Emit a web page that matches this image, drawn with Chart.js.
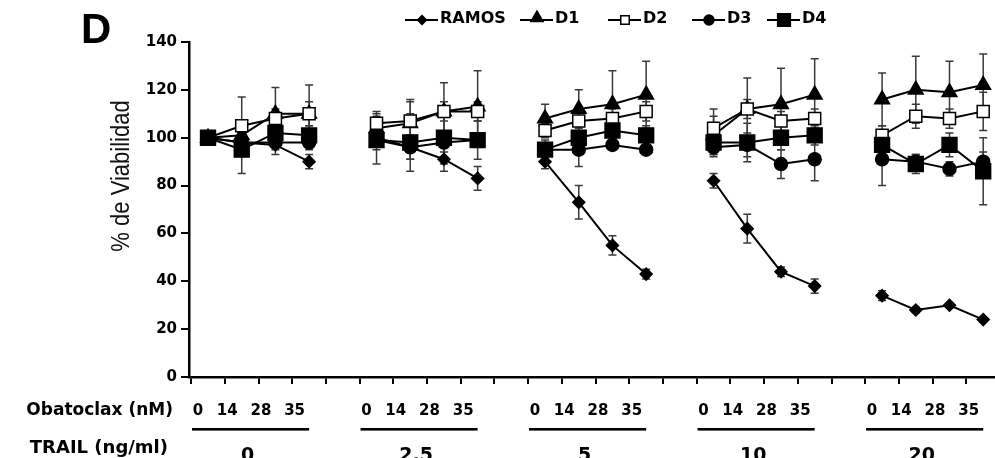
<!DOCTYPE html>
<html>
<head>
<meta charset="utf-8">
<script src="https://cdn.jsdelivr.net/npm/chart.js@4.4.0/dist/chart.umd.min.js"></script>
<style>
html,body{margin:0;padding:0;background:#fff;}
#wrap{width:995px;height:458px;position:relative;overflow:hidden;}
</style>
</head>
<body>
<div id="wrap"><canvas id="c" width="995" height="458"></canvas></div>
<script>
// ---------- data ----------
const panelLabel = 'D';
const yTitle = '% de Viabilidad';
const rowLabelObatoclax = 'Obatoclax (nM)';
const rowLabelTrail = 'TRAIL (ng/ml)';
const trailGroups = ['0', '2.5', '5', '10', '20'];
const categories = ['0','14','28','35','', '0','14','28','35','', '0','14','28','35','', '0','14','28','35','', '0','14','28','35'];
const yTickValues = [0, 20, 40, 60, 80, 100, 120, 140];
const seriesNames = ['RAMOS', 'D1', 'D2', 'D3', 'D4'];

const ramos    = [100, 98, 97, 90, null, 100, 96, 91, 83, null, 90, 73, 55, 43, null, 82, 62, 44, 38, null, 34, 28, 30, 24];
const ramosErr = [0, 3, 4, 3, null, 3, 5, 5, 5, null, 3, 7, 4, 2, null, 3, 6, 2, 3, null, 2, 1, 1, 1];
const d1       = [100, 101, 110, 110, null, 104, 106, 111, 113, null, 108, 112, 114, 118, null, 101, 112, 114, 118, null, 116, 120, 119, 122];
const d1Err    = [0, 6, 11, 12, null, 6, 9, 12, 15, null, 6, 8, 14, 14, null, 8, 13, 15, 15, null, 11, 14, 13, 13];
const d2       = [100, 105, 108, 110, null, 106, 107, 111, 111, null, 103, 107, 108, 111, null, 104, 112, 107, 108, null, 101, 109, 108, 111];
const d2Err    = [0, 12, 4, 5, null, 5, 9, 4, 4, null, 3, 4, 4, 4, null, 8, 4, 4, 4, null, 4, 5, 4, 8];
const d3       = [100, 98, 98, 98, null, 99, 96, 98, 99, null, 95, 95, 97, 95, null, 96, 97, 89, 91, null, 91, 90, 87, 90];
const d3Err    = [0, 5, 3, 3, null, 4, 5, 4, 3, null, 3, 7, 2, 2, null, 3, 5, 6, 9, null, 11, 3, 3, 4];
const d4       = [100, 95, 102, 101, null, 99, 98, 100, 99, null, 95, 100, 103, 101, null, 98, 98, 100, 101, null, 97, 89, 97, 86];
const d4Err    = [0, 10, 4, 4, null, 10, 12, 11, 8, null, 4, 6, 4, 4, null, 6, 8, 5, 4, null, 6, 4, 5, 14];

// ---------- styles ----------
const seriesList = [
  {name: seriesNames[0], values: ramos, errors: ramosErr, style: 'rectRot',  r: 6,    fill: '#000', order: 4, legR: 4.5},
  {name: seriesNames[1], values: d1,    errors: d1Err,    style: 'triangle', r: 8.5,  fill: '#000', order: 3, legR: 7},
  {name: seriesNames[2], values: d2,    errors: d2Err,    style: 'rect',     r: 8.5,  fill: '#fff', order: 1, legR: 6},
  {name: seriesNames[3], values: d3,    errors: d3Err,    style: 'circle',   r: 6.5,  fill: '#000', order: 2, legR: 5},
  {name: seriesNames[4], values: d4,    errors: d4Err,    style: 'rect',     r: 10.5, fill: '#000', order: 0, legR: 9}
];
const legendLineStarts = [405, 520, 608, 692, 767];

const datasets = seriesList.map(s => ({
  label: s.name,
  data: s.values.map((v, i) => ({x: i, y: v})),
  borderColor: '#000',
  borderWidth: 2,
  pointStyle: s.style,
  pointRadius: s.r,
  pointBackgroundColor: s.fill,
  pointBorderColor: '#000',
  pointBorderWidth: 1.5,
  spanGaps: false,
  tension: 0,
  fill: false,
  clip: false,
  order: s.order
}));

const boundaries = categories.map((c, i) => i - 0.5);

const errorBarPlugin = {
  id: 'errbars',
  beforeDatasetsDraw(chart) {
    const {ctx, scales: {x, y}} = chart;
    ctx.save();
    ctx.strokeStyle = '#3a3a3a';
    ctx.lineWidth = 1.5;
    seriesList.forEach(s => {
      s.values.forEach((v, i) => {
        const e = s.errors[i];
        if (v == null || !e) return;
        const px = x.getPixelForValue(i);
        const t = y.getPixelForValue(v + e);
        const b = y.getPixelForValue(v - e);
        ctx.beginPath();
        ctx.moveTo(px, t); ctx.lineTo(px, b);
        ctx.moveTo(px - 4, t); ctx.lineTo(px + 4, t);
        ctx.moveTo(px - 4, b); ctx.lineTo(px + 4, b);
        ctx.stroke();
      });
    });
    ctx.restore();
  }
};

function drawMarker(ctx, style, cx, cy, r, fill) {
  ctx.beginPath();
  if (style === 'circle') {
    ctx.arc(cx, cy, r, 0, Math.PI * 2);
  } else if (style === 'rect') {
    ctx.rect(cx - r * 0.7071, cy - r * 0.7071, r * 1.4142, r * 1.4142);
  } else if (style === 'rectRot') {
    ctx.moveTo(cx - r, cy); ctx.lineTo(cx, cy - r); ctx.lineTo(cx + r, cy); ctx.lineTo(cx, cy + r); ctx.closePath();
  } else if (style === 'triangle') {
    ctx.moveTo(cx, cy - r);
    ctx.lineTo(cx + r * 0.866, cy + r * 0.5);
    ctx.lineTo(cx - r * 0.866, cy + r * 0.5);
    ctx.closePath();
  }
  ctx.fillStyle = fill;
  ctx.fill();
  ctx.lineWidth = 1.5;
  ctx.strokeStyle = '#000';
  ctx.stroke();
}

const annotPlugin = {
  id: 'annot',
  afterDraw(chart) {
    const {ctx, scales: {x, y}} = chart;
    ctx.save();
    ctx.fillStyle = '#000';
    ctx.textBaseline = 'alphabetic';

    // panel letter
    ctx.font = 'bold 42px "Liberation Sans", Arial, sans-serif';
    ctx.textAlign = 'left';
    ctx.fillText(panelLabel, 81, 43);

    // y title
    ctx.save();
    ctx.translate(122, 176);
    ctx.rotate(-Math.PI / 2);
    ctx.scale(1, 1.2);
    ctx.font = '22px "Liberation Sans", Arial, sans-serif';
    ctx.textAlign = 'center';
    ctx.textBaseline = 'middle';
    ctx.fillStyle = '#111';
    ctx.fillText(yTitle, 0, 0);
    ctx.restore();

    // legend
    ctx.font = 'bold 16px "DejaVu Sans", sans-serif';
    ctx.textAlign = 'left';
    ctx.textBaseline = 'middle';
    seriesList.forEach((s, k) => {
      const lx = legendLineStarts[k];
      ctx.beginPath();
      ctx.moveTo(lx, 20); ctx.lineTo(lx + 33, 20);
      ctx.lineWidth = 2; ctx.strokeStyle = '#000'; ctx.stroke();
      drawMarker(ctx, s.style, lx + 17, s.style === 'triangle' ? 18 : 20, s.legR, s.fill);
      ctx.fillStyle = '#000';
      ctx.fillText(s.name, lx + 35, 19);
    });

    // row labels
    ctx.textBaseline = 'alphabetic';
    ctx.textAlign = 'right';
    ctx.fillStyle = '#000';
    ctx.font = 'bold 17px "DejaVu Sans", sans-serif';
    ctx.fillText(rowLabelObatoclax, 173, 415);
    ctx.font = 'bold 18px "DejaVu Sans", sans-serif';
    ctx.fillText(rowLabelTrail, 168, 453);

    // obatoclax dose labels
    ctx.textAlign = 'center';
    ctx.font = 'bold 15px "DejaVu Sans", sans-serif';
    categories.forEach((c, i) => {
      if (!c) return;
      const px = x.getPixelForValue(i) + (c === '0' ? -10 : -14.5);
      ctx.fillText(c, px, 415);
    });

    // TRAIL group bars and labels
    ctx.font = 'bold 19px "DejaVu Sans", sans-serif';
    trailGroups.forEach((g, k) => {
      const x0 = x.getPixelForValue(k * 5) - 16;
      const x1 = x.getPixelForValue(k * 5 + 3);
      ctx.fillRect(x0, 428, x1 - x0, 2.6);
      ctx.fillText(g, (x0 + x1) / 2 - 3, 461);
    });
    ctx.restore();
  }
};

new Chart(document.getElementById('c').getContext('2d'), {
  type: 'line',
  data: {datasets},
  options: {
    responsive: false,
    animation: false,
    events: [],
    layout: {autoPadding: false, padding: {top: 42, left: 0, right: 0, bottom: 0}},
    plugins: {legend: {display: false}, tooltip: {enabled: false}, title: {display: false}},
    scales: {
      x: {
        type: 'linear',
        min: -0.564,
        max: 23.35,
        afterBuildTicks: s => { s.ticks = boundaries.map(v => ({value: v})); },
        afterFit: s => { s.height = 81; },
        ticks: {display: false},
        grid: {drawOnChartArea: false, drawTicks: true, tickLength: 7, color: '#000', tickColor: '#000', lineWidth: 2, tickWidth: 2},
        border: {display: true, color: '#000', width: 2.5}
      },
      y: {
        min: 0,
        max: 140,
        afterBuildTicks: s => { s.ticks = yTickValues.map(v => ({value: v})); },
        afterFit: s => { s.width = 189; },
        ticks: {color: '#000', font: {family: '"DejaVu Sans", sans-serif', weight: 'bold', size: 15}, padding: 4},
        grid: {drawOnChartArea: false, drawTicks: true, tickLength: 8, color: '#000', tickColor: '#000', lineWidth: 2, tickWidth: 2},
        border: {display: true, color: '#000', width: 2.5}
      }
    }
  },
  plugins: [errorBarPlugin, annotPlugin]
});
</script>
</body>
</html>
